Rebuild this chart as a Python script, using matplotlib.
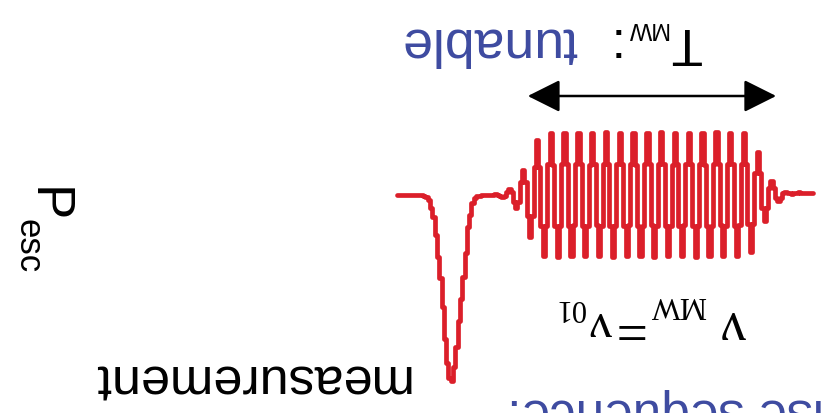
import matplotlib
matplotlib.use("Agg")
import matplotlib.pyplot as plt
import numpy as np

plt.rcParams['font.family'] = ['Liberation Sans', 'DejaVu Sans']

W, H = 821, 414
RED = '#db1f2a'
BLUE = '#3d4aa0'

# escape-probability trace, one sample per ns (arbitrary units, 0 = baseline)
lead_in = [-2, -2, -2, -2, -2, -2, -3, -2, -2, -1, -2]

# microwave burst, one row per oscillation period (6 samples each)
burst = [
    [-2, -3, -2, 3, 6, 3],
    [-7, -14, -7, 13, 26, 13],
    [-22, -43, -22, 29, 57, 29],
    [-31, -62, -31, 30, 61, 31],
    [-31, -62, -31, 31, 61, 30],
    [-31, -63, -31, 31, 61, 31],
    [-30, -62, -31, 31, 62, 31],
    [-31, -62, -31, 30, 61, 31],
    [-31, -62, -30, 31, 61, 31],
    [-31, -63, -31, 31, 62, 30],
    [-31, -62, -31, 31, 61, 31],
    [-30, -62, -31, 30, 61, 31],
    [-31, -62, -31, 31, 62, 31],
    [-31, -63, -31, 31, 61, 30],
    [-31, -62, -30, 31, 61, 31],
    [-31, -62, -31, 30, 61, 31],
    [-31, -62, -31, 31, 62, 31],
    [-30, -62, -31, 31, 61, 31],
    [-28, -55, -28, 21, 42, 21],
    [-13, -25, -13, 7, 13, 7],
    [-3, -6, -3, 1, 2, 1],
    [0, -1, 0, 0, 0, 0],
]

# readout (measurement) pulse and flat tail
pulse = [0, 0, 1, 1, 3, 8, 20, 32, 58, 82, 104, 126, 152, 172, 186,
         183, 168, 144, 112, 83, 62, 40, 22, 13, 5, 2, 1,
         0, 0, 0, 0, 0, 0, 0, 0, 0, 0, 0, 0]

# microwave duration marker (ns)
mw_start, mw_end = 16, 124
marker_level = -99

signal = np.array(lead_in + [v for row in burst for v in row] + pulse, dtype=float)
time = np.arange(len(signal))

fig = plt.figure(figsize=(W / 100, H / 100), dpi=100)
ax = fig.add_axes([0, 0, 1, 1])
ax.axis('off')
# figure is shown rotated by 180 degrees
ax.set_xlim(353.5, -3.5)
ax.set_ylim(218, -196)

ax.plot(time, signal, color=RED, lw=3.4, drawstyle='steps-mid',
        solid_joinstyle='round', solid_capstyle='round')

ax.annotate('', xy=(mw_start, marker_level), xytext=(mw_end, marker_level),
            arrowprops=dict(arrowstyle='<|-|>,head_length=0.4,head_width=0.2',
                            mutation_scale=50, lw=1.8, color='black',
                            shrinkA=0, shrinkB=0))


def label(x, y, s, rot=180, **kw):
    kw.setdefault('ha', 'left')
    kw.setdefault('va', 'baseline')
    fig.text(x / W, 1 - y / H, s, rotation=rot, rotation_mode='anchor', **kw)


label(701, 28, 'T', fontsize=37, color='black')
label(668, 22, 'MW', fontsize=17, color='black')
label(617, 28, ':', fontsize=37, color='black')
label(577, 28, 'tunable', fontsize=38.5, color=BLUE)

label(409, 365, 'measurement', fontsize=37.5, color='black')

label(33, 187, 'P', rot=270, fontsize=38, color='black')
label(18, 219, 'esc', rot=270, fontsize=25, color='black')

# nu_MW = nu_01
serif = ['Liberation Serif', 'DejaVu Serif']
label(746, 312, '\u03bd', fontsize=40, color='black', family=serif)
label(706, 297, 'MW', fontsize=22, color='black', family=serif)
label(643, 312, '=', fontsize=40, color='black', family=serif)
label(612, 312, '\u03bd', fontsize=36, color='black', family=serif)
label(585, 300, '01', fontsize=22, color='black', family=serif)

label(507, 399, 'Pulse sequence:', ha='right', fontsize=37, color=BLUE)

fig.savefig('out.png', dpi=100)
